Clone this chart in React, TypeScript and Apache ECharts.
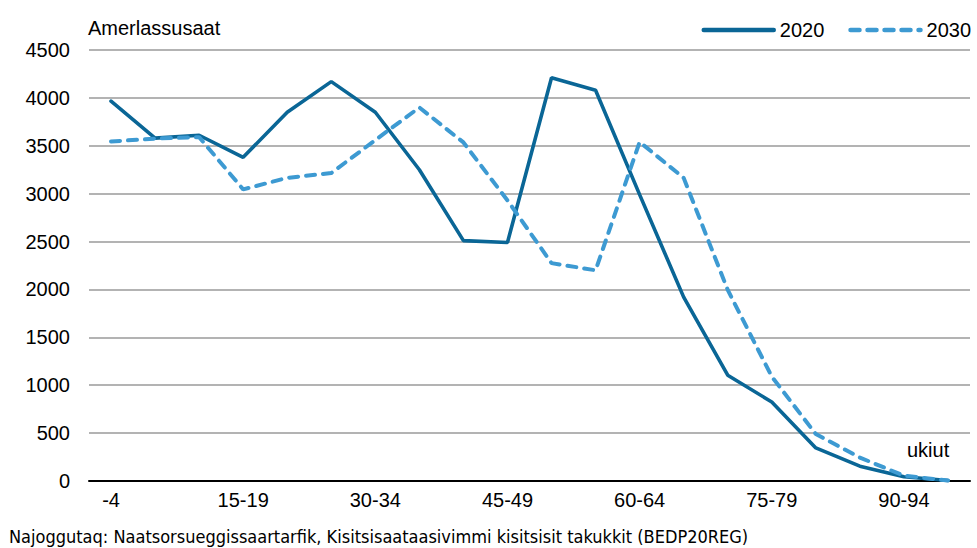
import React, { useEffect, useRef } from "react";
import * as echarts from "echarts";

const categories = ["-4","5-9","10-14","15-19","20-24","25-29","30-34","35-39","40-44","45-49","50-54","55-59","60-64","65-69","70-74","75-79","80-84","85-89","90-94","95-"];
const values2020 = [3965, 3580, 3610, 3380, 3850, 4170, 3850, 3250, 2510, 2490, 4210, 4080, 2990, 1920, 1105, 825, 345, 155, 45, 5];
const values2030 = [3545, 3575, 3590, 3045, 3165, 3215, 3560, 3900, 3535, 2930, 2275, 2200, 3540, 3165, 1995, 1090, 490, 245, 55, 5];
const yTicks = { min: 0, max: 4500, interval: 500 };

export default function App() {
  const ref = useRef<HTMLDivElement>(null);
  useEffect(() => {
    const chart = echarts.init(ref.current!, null, { renderer: "svg" });
    const font = "'Liberation Sans', Arial, sans-serif";
    const fs = 20;
    chart.setOption({
      animation: false,
      grid: { left: 89, right: 7, top: 50, bottom: 67 },
      legend: {
        right: 1,
        top: 15,
        itemWidth: 70,
        itemHeight: 14,
        itemGap: 24,
        itemStyle: { opacity: 0 },
        lineStyle: { width: 4.5 },
        textStyle: { fontFamily: font, fontSize: fs, color: "#000", padding: [0, 0, 0, 1] },
        data: ["2020", "2030"],
      },
      xAxis: {
        type: "category",
        data: categories,
        boundaryGap: true,
        axisLine: { lineStyle: { color: "#000", width: 2 } },
        axisTick: { show: false },
        axisLabel: { interval: 2, margin: 9, fontFamily: font, fontSize: fs, color: "#000" },
      },
      yAxis: {
        type: "value",
        min: yTicks.min,
        max: yTicks.max,
        interval: yTicks.interval,
        axisLine: { show: false },
        axisTick: { show: false },
        splitLine: { lineStyle: { color: "#9a9a9a", width: 1.5 } },
        axisLabel: { margin: 19, fontFamily: font, fontSize: fs, color: "#000", formatter: (v: number) => String(v) },
      },
      graphic: [
        { type: "text", left: 88, top: 18, style: { text: "Amerlassusaat", font: `${fs}px ${font}`, fill: "#000" } },
        { type: "text", left: 907, top: 440, style: { text: "ukiut", font: `${fs}px ${font}`, fill: "#000" } },
        {
          type: "text", left: 9, top: 527,
          style: { text: "Najoggutaq: Naatsorsueggissaartarfik, Kisitsisaataasivimmi kisitsisit takukkit (BEDP20REG)", font: `18px 'DejaVu Sans Condensed', sans-serif`, fill: "#000" },
        },
      ],
      series: [
        {
          name: "2020",
          type: "line",
          data: values2020,
          symbol: "none",
          lineStyle: { color: "#0a6696", width: 3.6, cap: "round" },
          itemStyle: { color: "#0a6696" },
        },
        {
          name: "2030",
          type: "line",
          data: values2030,
          symbol: "none",
          lineStyle: { color: "#3d9ad2", width: 4, type: [9, 8], cap: "round" },
          itemStyle: { color: "#3d9ad2" },
        },
      ],
    });
    return () => chart.dispose();
  }, []);
  return <div ref={ref} style={{ width: 977, height: 548, position: "absolute", left: 0, top: 0 }} />;
}
